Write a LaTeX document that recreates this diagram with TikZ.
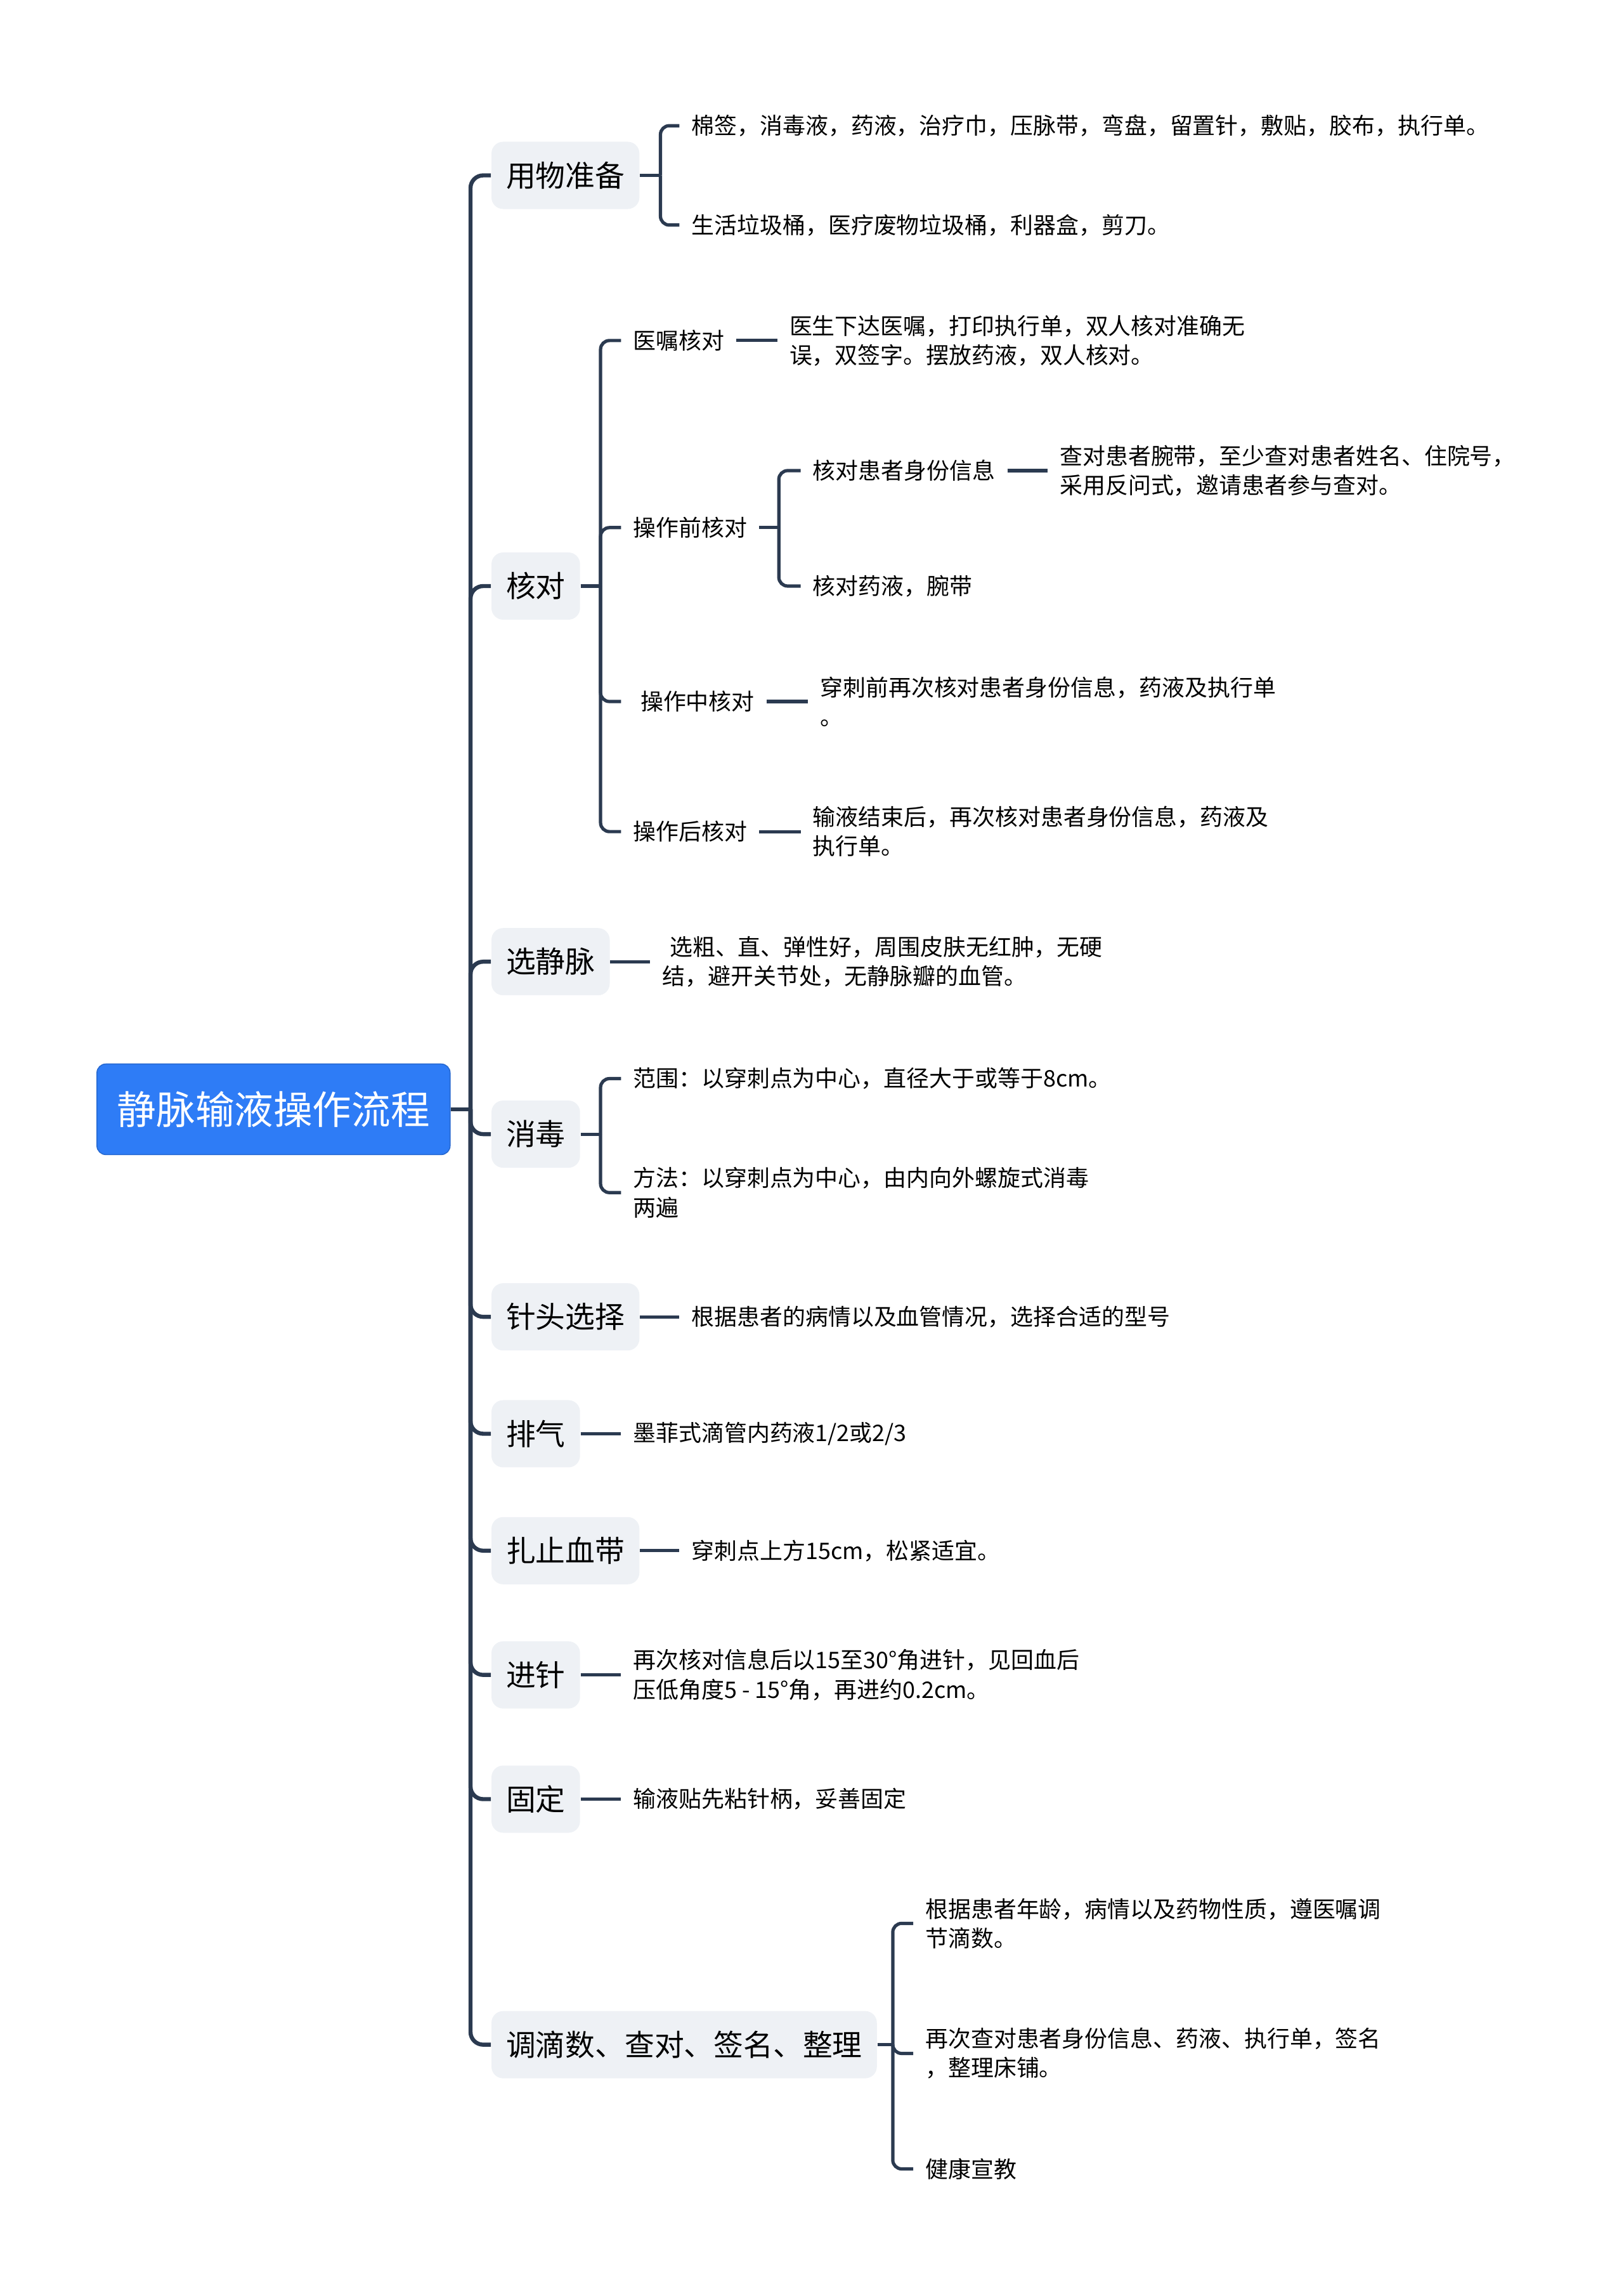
\documentclass[tikz,border=0pt]{standalone}
\usepackage{fontspec}
\newfontfamily\cjk{Noto Sans CJK SC}
\definecolor{linecol}{HTML}{2B3A50}
\definecolor{topicfill}{HTML}{EEF1F5}
\definecolor{rootblue}{HTML}{2E7CF6}
\tikzset{
  rootbox/.style={anchor=west, fill=rootblue, draw=rootblue!85!black, line width=0.4pt,
    rounded corners=3.5pt, inner xsep=8pt, inner ysep=0pt, minimum height=35.7pt,
    text=white, font=\cjk\fontsize{15.4pt}{18pt}\selectfont},
  topic/.style={anchor=west, fill=topicfill, rounded corners=4.6pt, inner xsep=5.76pt,
    inner ysep=0pt, minimum height=26.5pt, font=\cjk\fontsize{11.7pt}{14pt}\selectfont},
  leaf/.style={anchor=west, inner xsep=4.6pt, inner ysep=1pt, align=left,
    font=\cjk\fontsize{8.98pt}{11.52pt}\selectfont},
  mainline/.style={draw=linecol, line width=1.6pt},
  subline/.style={draw=linecol, line width=1.3pt},
}
\begin{document}
\begin{tikzpicture}[x=0.576pt, y=-0.576pt]
\useasboundingbox (0,0) rectangle (1111,1567.55);

% root
\node[rootbox] (root) at (66,759) {静脉输液操作流程};
\coordinate (sp) at (322,759);

% level 1
\node[topic] (t1) at (336,120) {用物准备};
\node[topic] (t2) at (336,401) {核对};
\node[topic] (t3) at (336,658) {选静脉};
\node[topic] (t4) at (336,776) {消毒};
\node[topic] (t5) at (336,901) {针头选择};
\node[topic] (t6) at (336,981) {排气};
\node[topic] (t7) at (336,1061) {扎止血带};
\node[topic] (t8) at (336,1146) {进针};
\node[topic] (t9) at (336,1231) {固定};
\node[topic, minimum width=150.3pt] (t10) at (336,1399) {调滴数、查对、签名、整理};

\draw[mainline] (root.east) -- (sp);
\foreach \t in {t1,t2,t3,t4,t5,t6,t7,t8,t9,t10}
  \draw[mainline, rounded corners=5pt] (sp) |- (\t.west);

% 用物准备
\coordinate (b1) at (452,120);
\node[leaf] (u1) at (465,86) {棉签，消毒液，药液，治疗巾，压脉带，弯盘，留置针，敷贴，胶布，执行单。};
\node[leaf] (u2) at (465,154) {生活垃圾桶，医疗废物垃圾桶，利器盒，剪刀。};
\draw[subline] (t1.east) -- (b1);
\foreach \c in {u1,u2} \draw[subline, rounded corners=3.5pt] (b1) |- (\c.west);

% 核对
\coordinate (b2) at (411,401);
\node[leaf] (h1) at (425,233) {医嘱核对};
\node[leaf] (h2) at (425,361) {操作前核对};
\node[leaf] (h3) at (425,480) {\hspace*{2.9pt}操作中核对};
\node[leaf] (h4) at (425,569) {操作后核对};
\draw[subline] (t2.east) -- (b2);
\foreach \c in {h1,h2,h3,h4} \draw[subline, rounded corners=3.5pt] (b2) |- (\c.west);

\node[leaf] (h1a) at (532,233) {医生下达医嘱，打印执行单，双人核对准确无\\误，双签字。摆放药液，双人核对。};
\draw[subline] (h1.east) -- (h1a.west);

\coordinate (b3) at (533,361);
\node[leaf] (h2a) at (548,322) {核对患者身份信息};
\node[leaf] (h2b) at (548,401) {核对药液，腕带};
\draw[subline] (h2.east) -- (b3);
\foreach \c in {h2a,h2b} \draw[subline, rounded corners=3.5pt] (b3) |- (\c.west);
\node[leaf] (h2c) at (717,322) {查对患者腕带，至少查对患者姓名、住院号，\\采用反问式，邀请患者参与查对。};
\draw[subline] (h2a.east) -- (h2c.west);

\node[leaf] (h3a) at (553,480) {穿刺前再次核对患者身份信息，药液及执行单\\。};
\draw[subline] (h3.east) -- (h3a.west);

\node[leaf] (h4a) at (548,569) {输液结束后，再次核对患者身份信息，药液及\\执行单。};
\draw[subline] (h4.east) -- (h4a.west);

% 选静脉
\node[leaf] (v1) at (445,658) {\hspace*{2.9pt}选粗、直、弹性好，周围皮肤无红肿，无硬\\结，避开关节处，无静脉瓣的血管。};
\draw[subline] (t3.east) -- (v1.west);

% 消毒
\coordinate (b4) at (411,776);
\node[leaf] (x1) at (425,738) {范围：以穿刺点为中心，直径大于或等于8cm。};
\node[leaf] (x2) at (425,816) {方法：以穿刺点为中心，由内向外螺旋式消毒\\两遍};
\draw[subline] (t4.east) -- (b4);
\foreach \c in {x1,x2} \draw[subline, rounded corners=3.5pt] (b4) |- (\c.west);

% 针头选择
\node[leaf] (n1) at (465,901) {根据患者的病情以及血管情况，选择合适的型号};
\draw[subline] (t5.east) -- (n1.west);

% 排气
\node[leaf] (p1) at (425,981) {墨菲式滴管内药液1/2或2/3};
\draw[subline] (t6.east) -- (p1.west);

% 扎止血带
\node[leaf] (z1) at (465,1061) {穿刺点上方15cm，松紧适宜。};
\draw[subline] (t7.east) -- (z1.west);

% 进针
\node[leaf] (j1) at (425,1146) {再次核对信息后以15至30°角进针，见回血后\\压低角度5 - 15°角，再进约0.2cm。};
\draw[subline] (t8.east) -- (j1.west);

% 固定
\node[leaf] (g1) at (425,1231) {输液贴先粘针柄，妥善固定};
\draw[subline] (t9.east) -- (g1.west);

% 调滴数、查对、签名、整理
\coordinate (b5) at (611,1399);
\node[leaf] (d1) at (625,1316) {根据患者年龄，病情以及药物性质，遵医嘱调\\节滴数。};
\node[leaf] (d2) at (625,1405) {再次查对患者身份信息、药液、执行单，签名\\，整理床铺。};
\node[leaf] (d3) at (625,1484) {健康宣教};
\draw[subline] (t10.east) -- (b5);
\foreach \c in {d1,d2,d3} \draw[subline, rounded corners=3.5pt] (b5) |- (\c.west);
\end{tikzpicture}
\end{document}
